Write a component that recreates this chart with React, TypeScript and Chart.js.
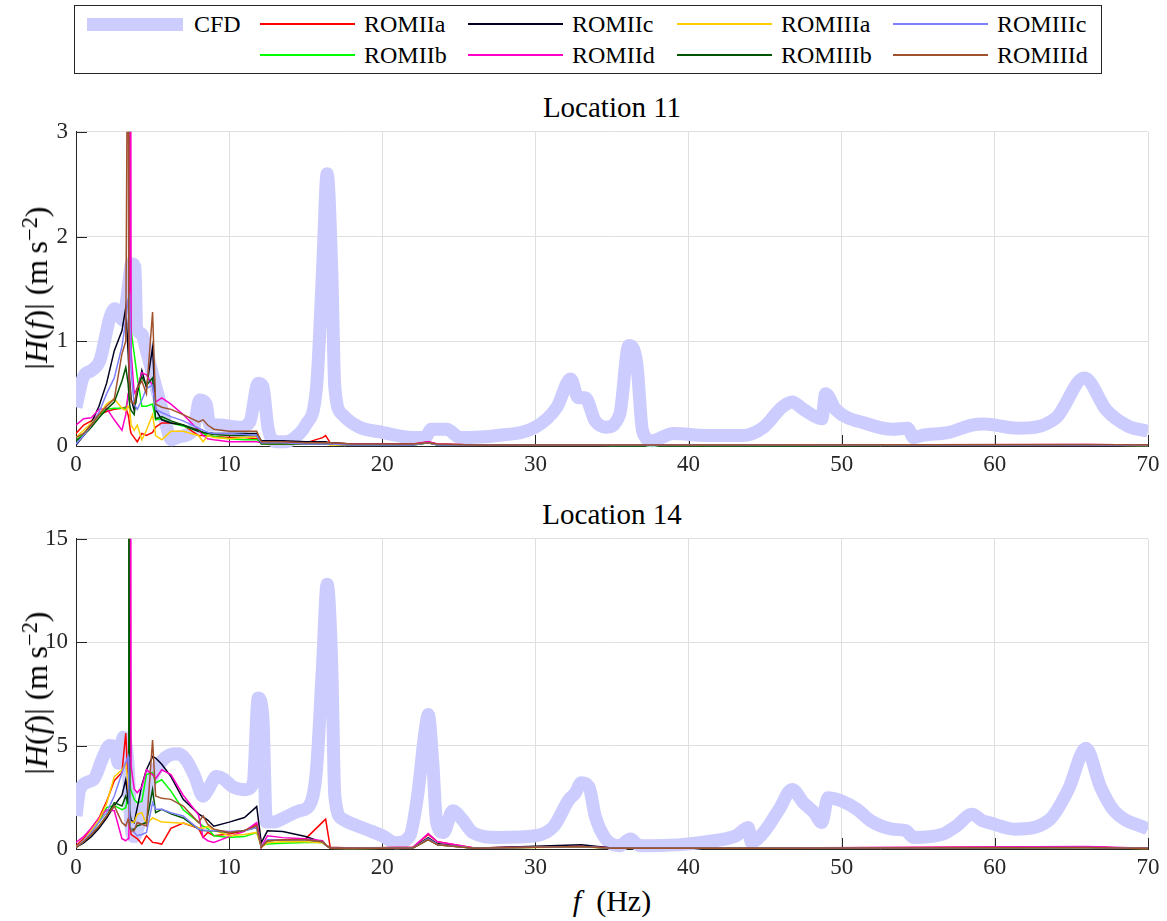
import React, { useEffect, useRef } from "react";
import { Chart, registerables } from "chart.js";

Chart.register(...registerables);

// ---------- data ----------
const ROM_FREQ = [0, 0.5, 1, 1.5, 2, 2.5, 3, 3.25, 3.4, 3.45, 3.5, 3.55, 3.6, 3.8, 4.0, 4.3, 4.6, 5.0, 5.2, 5.6, 6.2, 7, 8, 8.3, 8.6, 9, 10, 11, 11.8, 12.1, 12.5, 13.5, 15, 16.1, 16.3, 16.6, 18, 22, 23, 23.6, 26, 33, 35, 45, 66, 70];

const SERIES_NAMES = ["ROMIIa", "ROMIIb", "ROMIIc", "ROMIId", "ROMIIIa", "ROMIIIb", "ROMIIIc", "ROMIIId"];
const SERIES_COLORS = ["#ff0000", "#00ff00", "#000022", "#ff00c8", "#ffcc00", "#005500", "#8080ff", "#a0522d"];
const CFD_COLOR = "#ccccff";

// Location 11
const CFD_F11 = [0, 0.48, 1.0, 1.57, 2.22, 2.54, 3.09, 3.4, 3.63, 3.85, 3.96, 4.28, 4.6, 5.15, 5.7, 6.24, 6.78, 7.65, 8.09, 8.5, 8.74, 9.4, 10.7, 11.35, 11.9, 12.2, 12.54, 13.1, 13.7, 14.6, 15.0, 15.7, 16.1, 16.4, 16.7, 16.9, 17.4, 18.5, 20, 22, 22.8, 23.2, 24.2, 25.1, 27.5, 30, 31.4, 32.3, 32.8, 33.25, 33.9, 34.6, 35.5, 36.1, 36.6, 37.0, 37.6, 39.0, 41.2, 43.5, 44.9, 46.1, 46.76, 47.5, 48.7, 48.95, 49.6, 51.7, 53.3, 54.3, 54.7, 55.2, 57, 58.5, 59.3, 61.5, 64.0, 65.85, 67.3, 68.7, 70];
const CFD_V11 = [0.37, 0.66, 0.72, 0.82, 1.23, 1.31, 1.2, 1.5, 1.74, 1.71, 1.13, 1.07, 0.91, 0.6, 0.31, 0.06, 0.09, 0.15, 0.44, 0.4, 0.2, 0.2, 0.18, 0.23, 0.6, 0.57, 0.17, 0.04, 0.04, 0.12, 0.2, 0.55, 1.68, 2.6, 1.68, 0.56, 0.3, 0.18, 0.13, 0.08, 0.08, 0.16, 0.16, 0.08, 0.1, 0.18, 0.37, 0.64, 0.46, 0.46, 0.24, 0.18, 0.3, 0.96, 0.81, 0.14, 0.05, 0.12, 0.1, 0.1, 0.18, 0.37, 0.42, 0.35, 0.26, 0.5, 0.35, 0.21, 0.16, 0.17, 0.08, 0.1, 0.13, 0.2, 0.21, 0.17, 0.27, 0.65, 0.34, 0.19, 0.14];

const ROMIIa_11 = [0.12, 0.2, 0.24, 0.3, 0.33, 0.35, 0.36, 0.37, 0.3, 0.26, 0.2, 0.15, 0.12, 0.08, 0.04, 0.12, 0.1, 0.13, 0.18, 0.22, 0.22, 0.2, 0.1, 0.1, 0.1, 0.09, 0.08, 0.08, 0.07, 0.04, 0.04, 0.04, 0.03, 0.08, 0.1, 0.03, 0.02, 0.02, 0.04, 0.02, 0.01, 0.01, 0.01, 0.01, 0.01, 0.01];
const ROMIIb_11 = [0.05, 0.12, 0.2, 0.3, 0.35, 0.36, 0.36, 0.36, 0.45, 0.6, 6, 1.3, 1.1, 0.88, 0.66, 0.38, 0.38, 0.4, 0.25, 0.26, 0.22, 0.19, 0.14, 0.12, 0.1, 0.09, 0.07, 0.06, 0.06, 0.03, 0.02, 0.02, 0.02, 0.02, 0.02, 0.02, 0.01, 0.01, 0.03, 0.01, 0.01, 0.01, 0.005, 0.005, 0.01, 0.005];
const ROMIIc_11 = [0.01, 0.1, 0.22, 0.38, 0.6, 0.91, 1.1, 1.32, 0.9, 0.75, 0.63, 0.55, 0.45, 0.34, 0.5, 0.72, 0.56, 0.94, 0.35, 0.25, 0.22, 0.2, 0.14, 0.13, 0.13, 0.12, 0.12, 0.12, 0.12, 0.05, 0.05, 0.05, 0.04, 0.04, 0.04, 0.03, 0.02, 0.015, 0.03, 0.015, 0.01, 0.01, 0.01, 0.01, 0.01, 0.01];
const ROMIId_11 = [0.2, 0.26, 0.27, 0.35, 0.36, 0.25, 0.15, 0.3, 0.5, 0.6, 0.8, 7, 0.9, 0.5, 0.55, 0.7, 0.68, 0.58, 0.42, 0.46, 0.4, 0.3, 0.15, 0.1, 0.07, 0.06, 0.04, 0.04, 0.04, 0.03, 0.03, 0.03, 0.03, 0.03, 0.03, 0.02, 0.02, 0.015, 0.04, 0.02, 0.01, 0.01, 0.01, 0.01, 0.015, 0.01];
const ROMIIIa_11 = [0.08, 0.15, 0.22, 0.3, 0.4, 0.45, 0.36, 0.34, 0.38, 0.37, 0.35, 0.28, 0.2, 0.15, 0.2, 0.06, 0.15, 0.3, 0.1, 0.06, 0.14, 0.14, 0.1, 0.04, 0.1, 0.08, 0.07, 0.08, 0.09, 0.03, 0.02, 0.02, 0.02, 0.02, 0.02, 0.01, 0.01, 0.01, 0.03, 0.01, 0.01, 0.01, 0.01, 0.01, 0.01, 0.005];
const ROMIIIb_11 = [0.05, 0.1, 0.18, 0.27, 0.35, 0.42, 0.62, 0.75, 0.6, 0.5, 0.4, 0.36, 0.34, 0.3, 0.55, 0.66, 0.58, 0.65, 0.26, 0.28, 0.24, 0.2, 0.15, 0.13, 0.12, 0.11, 0.1, 0.1, 0.1, 0.02, 0.02, 0.02, 0.02, 0.02, 0.02, 0.02, 0.01, 0.01, 0.03, 0.01, 0.01, 0.01, 0.01, 0.01, 0.01, 0.005];
const ROMIIIc_11 = [0.02, 0.1, 0.2, 0.32, 0.5, 0.65, 0.95, 1.2, 1.4, 1.44, 1.45, 1.0, 0.7, 0.4, 0.35, 0.44, 0.55, 0.58, 0.35, 0.32, 0.28, 0.24, 0.17, 0.15, 0.13, 0.12, 0.12, 0.11, 0.1, 0.03, 0.03, 0.03, 0.02, 0.02, 0.02, 0.02, 0.01, 0.01, 0.03, 0.01, 0.01, 0.01, 0.01, 0.01, 0.01, 0.005];
const ROMIIId_11 = [0.08, 0.12, 0.2, 0.3, 0.38, 0.45, 0.88, 1.0, 5, 0.8, 0.6, 0.5, 0.42, 0.4, 0.55, 0.62, 0.5, 1.28, 0.4, 0.37, 0.35, 0.3, 0.23, 0.25, 0.2, 0.16, 0.14, 0.14, 0.14, 0.04, 0.04, 0.04, 0.03, 0.03, 0.03, 0.03, 0.02, 0.02, 0.03, 0.02, 0.01, 0.01, 0.01, 0.01, 0.015, 0.01];

// Location 14
const CFD_F14 = [0, 0.26, 1.13, 1.78, 2.2, 2.54, 2.76, 3.09, 3.4, 3.6, 3.8, 4.17, 4.83, 5.5, 6.13, 6.67, 7.2, 7.76, 8.3, 8.63, 9.17, 9.6, 10.26, 11.1, 11.57, 11.9, 12.2, 12.43, 12.87, 13.7, 14.6, 15.24, 15.7, 16.1, 16.4, 16.7, 16.9, 17.4, 18.95, 20, 20.9, 21.8, 22.3, 22.8, 23.0, 23.3, 23.55, 24.0, 24.6, 25.2, 25.9, 27.5, 30, 31.2, 32.2, 32.6, 33.0, 33.5, 33.9, 34.6, 35.5, 36.2, 36.8, 39.3, 41.2, 43.1, 43.9, 44.1, 44.9, 45.9, 46.76, 47.5, 48.2, 48.7, 49.1, 50.0, 51.0, 51.9, 53.3, 54.2, 54.7, 56.6, 57.5, 58.5, 59.2, 59.6, 61.3, 63.6, 64.8, 65.95, 66.9, 67.8, 70];
const CFD_V14 = [1.6, 2.9, 3.35, 4.47, 5.0, 4.95, 4.15, 5.4, 4.1, 1.0, 0.6, 1.3, 3.2, 4.15, 4.55, 4.6, 4.3, 3.5, 2.55, 2.87, 3.5, 3.4, 3.0, 2.87, 3.2, 7.3, 6.4, 1.3, 1.3, 1.55, 1.85, 2.1, 3.8, 8.9, 12.8, 8.9, 2.55, 1.45, 0.96, 0.64, 0.3, 0.64, 2.55, 5.75, 6.5, 4.15, 1.28, 0.8, 1.85, 1.45, 0.8, 0.56, 0.64, 1.1, 2.4, 2.7, 3.2, 3.0, 1.6, 0.48, 0.16, 0.48, 0.16, 0.2, 0.35, 0.64, 1.04, 0.32, 0.8, 1.9, 2.88, 2.24, 1.76, 1.28, 2.48, 2.32, 1.92, 1.36, 0.96, 0.88, 0.56, 0.72, 1.12, 1.68, 1.36, 1.28, 0.96, 1.44, 2.88, 4.87, 3.0, 1.84, 0.96];

const ROMIIa_14 = [0.15, 0.5, 1.0, 1.5, 2.3, 3.3, 3.7, 5.6, 3.2, 2.3, 1.5, 1.0, 0.7, 0.6, 0.5, 0.24, 0.64, 0.32, 0.3, 0.24, 1.0, 1.25, 1.0, 0.56, 0.8, 0.64, 0.72, 0.88, 1.2, 0.08, 0.4, 0.45, 0.5, 1.3, 1.45, 0.08, 0.05, 0.08, 0.7, 0.35, 0.05, 0.15, 0.05, 0.05, 0.1, 0.03];
const ROMIIb_14 = [0.1, 0.4, 0.8, 1.3, 2.0, 2.1, 1.9, 2.0, 2.6, 3.0, 30, 3.0, 2.8, 2.4, 2.24, 2.3, 3.6, 3.7, 3.2, 3.35, 2.8, 1.9, 1.3, 1.1, 1.0, 0.64, 0.56, 0.6, 0.8, 0.16, 0.24, 0.28, 0.32, 0.32, 0.2, 0.05, 0.03, 0.05, 0.5, 0.25, 0.04, 0.12, 0.04, 0.04, 0.08, 0.03];
const ROMIIc_14 = [0.08, 0.3, 0.6, 1.0, 1.5, 2.1, 2.6, 3.35, 2.4, 2.1, 1.8, 1.6, 1.4, 1.28, 2.0, 3.1, 3.83, 4.47, 4.4, 4.1, 3.5, 2.4, 1.7, 1.55, 1.4, 1.1, 1.3, 1.52, 2.05, 0.3, 0.88, 0.85, 0.6, 0.32, 0.2, 0.05, 0.03, 0.05, 0.55, 0.25, 0.04, 0.2, 0.05, 0.04, 0.08, 0.03];
const ROMIId_14 = [0.32, 0.6, 1.0, 1.5, 1.9, 1.85, 0.5, 0.4, 0.5, 0.8, 2.5, 35, 4.0, 2.9, 2.72, 3.0, 3.83, 3.6, 3.4, 3.83, 3.6, 2.6, 1.65, 0.56, 0.4, 0.32, 0.6, 0.85, 1.28, 0.1, 0.64, 0.55, 0.5, 0.4, 0.2, 0.05, 0.04, 0.08, 0.75, 0.35, 0.05, 0.12, 0.05, 0.05, 0.12, 0.04];
const ROMIIIa_14 = [0.08, 0.4, 0.9, 1.4, 2.2, 3.5, 3.83, 4.15, 3.2, 2.4, 1.44, 1.35, 1.28, 1.3, 1.68, 1.76, 1.2, 1.5, 1.44, 1.3, 1.28, 1.25, 1.04, 1.0, 1.1, 0.9, 0.64, 0.7, 0.8, 0.1, 0.3, 0.35, 0.35, 0.3, 0.2, 0.04, 0.03, 0.05, 0.45, 0.2, 0.04, 0.1, 0.04, 0.04, 0.06, 0.02];
const ROMIIIb_14 = [0.08, 0.35, 0.7, 1.1, 1.6, 2.24, 2.08, 2.56, 2.2, 20, 1.5, 1.0, 0.96, 0.96, 1.12, 1.2, 1.28, 2.88, 1.76, 1.92, 1.7, 1.5, 0.96, 0.9, 0.88, 0.88, 0.8, 0.9, 1.04, 0.1, 0.4, 0.45, 0.45, 0.35, 0.2, 0.04, 0.03, 0.05, 0.45, 0.2, 0.04, 0.12, 0.04, 0.04, 0.06, 0.02];
const ROMIIIc_14 = [0.08, 0.4, 0.8, 1.3, 1.76, 2.56, 3.67, 4.2, 4.47, 3.0, 1.5, 1.0, 0.96, 0.8, 0.64, 0.7, 0.8, 2.24, 1.92, 1.92, 1.75, 1.6, 0.96, 0.92, 0.9, 0.9, 0.85, 0.9, 1.04, 0.1, 0.45, 0.45, 0.45, 0.35, 0.2, 0.04, 0.03, 0.05, 0.5, 0.22, 0.04, 0.12, 0.04, 0.04, 0.07, 0.02];
const ROMIIId_14 = [0.08, 0.35, 0.7, 1.1, 1.6, 2.08, 1.28, 1.12, 1.44, 1.3, 1.1, 0.95, 0.88, 0.88, 1.28, 1.2, 1.12, 5.27, 2.56, 2.45, 2.4, 2.08, 1.28, 1.6, 1.2, 0.96, 0.8, 0.9, 1.12, 0.08, 0.4, 0.45, 0.45, 0.35, 0.2, 0.04, 0.03, 0.05, 0.45, 0.2, 0.04, 0.12, 0.04, 0.04, 0.07, 0.02];

const ROMS_11 = [ROMIIa_11, ROMIIb_11, ROMIIc_11, ROMIId_11, ROMIIIa_11, ROMIIIb_11, ROMIIIc_11, ROMIIId_11];
const ROMS_14 = [ROMIIa_14, ROMIIb_14, ROMIIc_14, ROMIId_14, ROMIIIa_14, ROMIIIb_14, ROMIIIc_14, ROMIIId_14];

const X_MIN = 0;
const X_MAX = 70;
const X_STEP = 10;

// ---------- style ----------
const FONT = '"Liberation Serif", "Times New Roman", serif';
const AXIS = "#262626";
const GRID = "#dfdfdf";
const W = 1167;

const inwardTicks = {
  id: "inwardTicks",
  beforeDatasetsDraw(chart: any) {
    const { ctx, chartArea, scales } = chart;
    ctx.save();
    ctx.strokeStyle = AXIS;
    ctx.lineWidth = 1;
    ctx.beginPath();
    scales.x.ticks.forEach((t: any) => {
      const px = Math.round(scales.x.getPixelForValue(t.value)) + 0.5;
      ctx.moveTo(px, chartArea.bottom);
      ctx.lineTo(px, chartArea.bottom - 11);
    });
    scales.y.ticks.forEach((t: any) => {
      const py = Math.round(scales.y.getPixelForValue(t.value)) + 0.5;
      ctx.moveTo(chartArea.left, py);
      ctx.lineTo(chartArea.left + 11, py);
    });
    ctx.stroke();
    ctx.restore();
  },
};

function pts(fs: number[], vs: number[]) {
  return fs.map((f, i) => ({ x: f, y: vs[i] }));
}

function FreqChart(props: { top: number; height: number; cfdF: number[]; cfdV: number[]; roms: number[][]; yMax: number; yStep: number }) {
  const ref = useRef<HTMLCanvasElement | null>(null);
  const { top, height, cfdF, cfdV, roms, yMax, yStep } = props;
  useEffect(() => {
    if (!ref.current) return;
    const datasets: any[] = [
      {
        label: "CFD",
        data: pts(cfdF, cfdV),
        borderColor: CFD_COLOR,
        backgroundColor: CFD_COLOR,
        borderWidth: 13,
        borderJoinStyle: "round",
        borderCapStyle: "butt",
        pointRadius: 0,
        cubicInterpolationMode: "monotone",
        order: 20,
        clip: { left: 0, top: 0, right: 0, bottom: 6 },
      },
    ];
    roms.forEach((vals, i) => {
      datasets.push({
        label: SERIES_NAMES[i],
        data: pts(ROM_FREQ, vals),
        borderColor: SERIES_COLORS[i],
        backgroundColor: SERIES_COLORS[i],
        borderWidth: 1.5,
        pointRadius: 0,
        tension: 0,
        order: 10 - i,
        clip: { left: 0, top: 0, right: 1, bottom: 3 },
      });
    });
    const tickFont = { family: FONT, size: 23 };
    const chart = new Chart(ref.current, {
      type: "line",
      data: { datasets },
      plugins: [inwardTicks],
      options: {
        animation: false,
        responsive: true,
        maintainAspectRatio: false,
        events: [],
        layout: { padding: { top: 20, right: W - 1148, left: 0, bottom: 0 } },
        plugins: { legend: { display: false }, tooltip: { enabled: false }, title: { display: false } },
        scales: {
          x: {
            type: "linear",
            min: X_MIN,
            max: X_MAX,
            afterFit: (s: any) => {
              s.height = 34;
            },
            ticks: { stepSize: X_STEP, font: tickFont, color: AXIS, padding: 5, maxRotation: 0, autoSkip: false },
            grid: { color: GRID, drawTicks: false, lineWidth: 1 },
            border: { color: AXIS, width: 1 },
          },
          y: {
            type: "linear",
            min: 0,
            max: yMax,
            afterFit: (s: any) => {
              s.width = 76;
            },
            ticks: { stepSize: yStep, font: tickFont, color: AXIS, padding: 8 },
            grid: { color: GRID, drawTicks: false, lineWidth: 1 },
            border: { color: AXIS, width: 1 },
          },
        },
      } as any,
    });
    return () => chart.destroy();
  }, []);
  return (
    <div style={{ position: "absolute", left: 0, top, width: W, height }}>
      <canvas ref={ref} />
    </div>
  );
}

function YLabel(props: { cy: number }) {
  return (
    <div
      style={{
        position: "absolute",
        left: 36,
        top: props.cy,
        transform: "translate(-50%, -50%) rotate(-90deg)",
        whiteSpace: "nowrap",
        fontSize: 32,
        lineHeight: "32px",
        color: "#000",
      }}
    >
      |<i>H</i>(<i>f</i>)| (m{"\u2009"}s<sup style={{ fontSize: "0.7em", verticalAlign: "0.45em", lineHeight: 0 }}>−2</sup>)
    </div>
  );
}

function LegendItem(props: { x: number; y: number; name: string; color: string; thick?: boolean }) {
  const { x, y, name, color, thick } = props;
  const lineW = thick ? 96 : 95;
  const h = thick ? 13 : 2;
  return (
    <>
      <div style={{ position: "absolute", left: x, top: y - h / 2, width: lineW, height: h, background: color }} />
      <div style={{ position: "absolute", left: x + lineW + (thick ? 11 : 9), top: y - 12, fontSize: 24, lineHeight: "24px", whiteSpace: "nowrap", color: "#000" }}>{name}</div>
    </>
  );
}

function Legend() {
  const colsX = [260, 468, 677, 893];
  const row1 = 24;
  const row2 = 55;
  return (
    <>
      <div style={{ position: "absolute", left: 74, top: 5, width: 1028, height: 69, border: "1px solid #262626", boxSizing: "border-box", background: "#fff" }} />
      <LegendItem x={87} y={row1} name="CFD" color={CFD_COLOR} thick />
      {[0, 2, 4, 6].map((si, c) => (
        <LegendItem key={"a" + si} x={colsX[c]} y={row1} name={SERIES_NAMES[si]} color={SERIES_COLORS[si]} />
      ))}
      {[1, 3, 5, 7].map((si, c) => (
        <LegendItem key={"b" + si} x={colsX[c]} y={row2} name={SERIES_NAMES[si]} color={SERIES_COLORS[si]} />
      ))}
    </>
  );
}

const titleStyle = (top: number): React.CSSProperties => ({
  position: "absolute",
  left: 76,
  width: 1072,
  top,
  textAlign: "center",
  fontSize: 29,
  lineHeight: "29px",
  color: "#000",
  whiteSpace: "nowrap",
});

export default function App() {
  return (
    <div style={{ position: "absolute", left: 0, top: 0, width: W, height: 921, background: "#fff", fontFamily: FONT, overflow: "hidden" }}>
      <Legend />
      <div style={titleStyle(93)}>Location 11</div>
      <FreqChart top={110} height={370} cfdF={CFD_F11} cfdV={CFD_V11} roms={ROMS_11} yMax={3} yStep={1} />
      <YLabel cy={288} />
      <div style={titleStyle(500)}>Location 14</div>
      <FreqChart top={517} height={366} cfdF={CFD_F14} cfdV={CFD_V14} roms={ROMS_14} yMax={15} yStep={5} />
      <YLabel cy={693} />
      <div style={{ position: "absolute", left: 76, width: 1072, top: 886, textAlign: "center", fontSize: 30, lineHeight: "30px", color: "#000", whiteSpace: "nowrap" }}>
        <i>f</i>{"\u2002"}(Hz)
      </div>
    </div>
  );
}
